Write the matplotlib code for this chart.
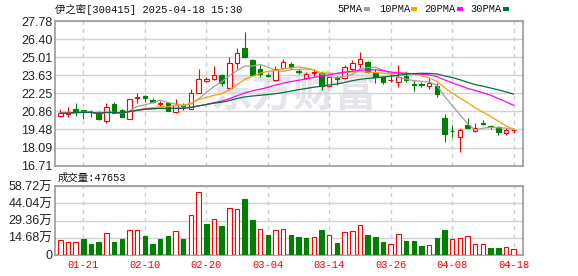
import numpy as np
import pandas as pd
from matplotlib import pyplot as plt
from matplotlib.patches import Rectangle

# daily data (price in yuan, volume in 万)
dates = ['01-16', '01-17', '01-20', '01-21', '01-22', '01-23', '01-24', '01-27',
         '02-05', '02-06', '02-07', '02-10', '02-11', '02-12', '02-13', '02-14',
         '02-17', '02-18', '02-19', '02-20', '02-21', '02-24', '02-25', '02-26',
         '02-27', '02-28', '03-03', '03-04', '03-05', '03-06', '03-07', '03-10',
         '03-11', '03-12', '03-13', '03-14', '03-17', '03-18', '03-19', '03-20',
         '03-21', '03-24', '03-25', '03-26', '03-27', '03-28', '03-31', '04-01',
         '04-02', '04-03', '04-07', '04-08', '04-09', '04-10', '04-11', '04-14',
         '04-15', '04-16', '04-17', '04-18']
opens = [20.52, 20.66, 21.03, 20.95, 20.80, 20.78, 20.14, 21.40, 20.98, 20.31,
         21.90, 22.07, 21.76, 21.45, 21.54, 20.84, 21.34, 21.07, 22.30, 23.18,
         23.36, 23.63, 22.68, 24.55, 25.68, 24.78, 24.09, 23.62, 23.27, 24.22,
         24.46, 23.94, 23.40, 23.82, 23.83, 22.82, 23.52, 23.45, 24.08, 24.47,
         24.68, 23.78, 23.47, 23.26, 23.12, 23.60, 22.96, 22.95, 22.81, 22.81,
         20.39, 19.40, 18.93, 19.83, 19.37, 20.00, 19.71, 19.68, 19.24, 19.45]
highs = [21.02, 21.22, 21.48, 20.97, 20.97, 20.92, 21.48, 21.58, 21.03, 21.83,
         22.28, 22.12, 21.86, 21.66, 21.60, 21.80, 21.50, 22.55, 24.14, 23.46,
         24.35, 23.70, 25.05, 25.75, 26.94, 24.85, 24.39, 23.78, 24.34, 24.86,
         24.65, 24.10, 23.90, 24.05, 23.94, 23.52, 23.54, 24.42, 24.80, 25.44,
         24.73, 24.14, 23.60, 23.85, 24.39, 23.96, 23.27, 23.12, 23.40, 23.07,
         20.65, 19.80, 19.62, 20.34, 19.96, 20.18, 19.80, 19.75, 19.62, 19.47]
lows = [20.47, 20.45, 20.55, 20.25, 20.45, 20.22, 19.98, 20.72, 20.40, 20.27,
        21.53, 21.55, 21.50, 21.30, 20.86, 20.76, 20.97, 21.02, 22.24, 23.10,
        23.30, 22.80, 22.56, 24.08, 24.98, 23.58, 23.52, 23.48, 23.19, 24.14,
        24.09, 23.71, 23.32, 23.56, 22.50, 22.76, 22.86, 23.37, 24.03, 24.22,
        23.82, 23.02, 22.96, 23.12, 22.74, 23.10, 22.43, 22.76, 22.61, 21.99,
        18.52, 18.93, 17.76, 19.57, 19.29, 19.80, 19.50, 19.04, 19.04, 19.19]
closes = [20.72, 20.74, 20.86, 20.84, 20.82, 20.28, 21.22, 20.77, 20.47, 21.79,
          21.93, 21.88, 21.56, 21.48, 20.90, 21.32, 21.25, 22.25, 23.37, 23.33,
          23.62, 23.07, 24.55, 25.36, 25.04, 23.63, 23.70, 23.55, 24.09, 24.65,
          24.24, 23.87, 23.69, 23.86, 22.78, 23.46, 23.37, 24.28, 24.60, 24.90,
          23.91, 23.53, 23.13, 23.28, 23.52, 23.24, 22.90, 22.88, 23.07, 22.17,
          19.11, 19.34, 19.44, 19.57, 19.63, 19.92, 19.65, 19.29, 19.42, 19.47]
volumes = [12.2, 11.3, 11.3, 13.3, 9.1, 10.7, 19.0, 10.7, 13.3, 21.5,
           21.5, 15.8, 9.1, 13.3, 15.8, 20.7, 13.3, 34.2, 53.8, 26.0,
           30.8, 24.3, 40.2, 39.3, 48.1, 29.4, 22.3, 16.7, 21.5, 22.3,
           16.7, 15.0, 14.1, 15.0, 20.9, 16.7, 9.9, 19.8, 20.7, 25.7,
           16.7, 15.0, 10.7, 8.8, 18.1, 11.6, 11.6, 7.4, 7.9, 14.1,
           20.9, 13.9, 14.7, 16.4, 8.8, 8.8, 5.7, 5.7, 6.2, 4.7653]

price_ticks = [16.71, 18.09, 19.48, 20.86, 22.25, 23.63, 25.01, 26.40, 27.78]
vol_ticks = [0, 14.68, 29.36, 44.04, 58.72]
ma_periods = [5, 10, 20, 30]
ma_colors = ['#a0a0a0', '#f5a300', '#ff00ff', '#00703c']

RED = '#ff0000'
GREEN = '#008000'
W, H = 578, 276

def box(l, t, r, b):
    return [l / W, 1 - b / H, (r - l) / W, (b - t) / H]

x = np.arange(len(dates))
o = np.array(opens)
c = np.array(closes)
up = c >= o
prev = np.concatenate([[o[0]], c[:-1]])
vol_up = c >= prev

fig = plt.figure(figsize=(W / 100, H / 100), dpi=100)
ax = fig.add_axes(box(55, 21, 522.5, 165.7))
axv = fig.add_axes(box(55, 186.3, 522.5, 254.7), sharex=ax)

# watermark
ax.text(0.51, 0.5, '东方财富', transform=ax.transAxes, fontsize=30,
        fontweight='bold', color='#e4e4ea', ha='center', va='center',
        family='Noto Sans CJK SC', zorder=0.5)

# candles
cols = np.where(up, RED, GREEN)
ax.vlines(x, lows, highs, colors=cols, lw=0.8, zorder=2)
body = np.maximum(np.abs(c - o), 0.012)
ax.bar(x, body, bottom=np.minimum(o, c), width=0.58,
       facecolor=np.where(up, 'white', GREEN), edgecolor=cols, lw=0.8, zorder=3)

# moving averages
s = pd.Series(closes)
for n, col in zip(ma_periods, ma_colors):
    ax.plot(x, s.rolling(n, min_periods=1).mean(), color=col, lw=0.9, zorder=4)

# volume bars
vcols = np.where(vol_up, RED, GREEN)
axv.bar(x, volumes, width=0.58, facecolor=np.where(vol_up, 'white', GREEN),
        edgecolor=vcols, lw=0.8, zorder=3)

tick_idx = list(range(3, len(dates), 8))
for a in (ax, axv):
    a.set_axisbelow(True)
    a.grid(axis='y', color='#d2d2d2', lw=1)
    a.grid(axis='x', color='#cccccc', lw=1, ls=(0, (3, 3)))
    for sp in a.spines.values():
        sp.set_color('#999999')
        sp.set_linewidth(1.2)
    a.tick_params(length=0)

ax.set_xlim(-0.69, 60.15)
ax.set_xticks(tick_idx)
ax.set_ylim(16.71, 27.78)
ax.set_yticks(price_ticks)
ax.set_yticklabels(['%.2f' % v for v in price_ticks], fontsize=9,
                   family='Liberation Sans', color='#222222')
ax.tick_params(axis='y', pad=2)
ax.tick_params(axis='x', labelbottom=False)

axv.set_ylim(0, 58.72)
axv.set_yticks(vol_ticks)
axv.set_yticklabels(['0'] + ['%.2f万' % v for v in vol_ticks[1:]], fontsize=9,
                    fontfamily=['Liberation Sans', 'Noto Sans CJK SC'], color='#222222')
axv.tick_params(axis='y', pad=2)
axv.set_xticklabels([dates[i] for i in tick_idx], fontsize=7.6,
                    family='Liberation Mono', color=RED)
axv.tick_params(axis='x', pad=4)

# header texts
fam = ['Liberation Mono', 'Noto Sans CJK SC']
fig.text(55 / W, 1 - 9.2 / H, '伊之密[300415] 2025-04-18 15:30', fontsize=7.5,
         family=fam, color='#111111', va='center', ha='left')
fig.text(58 / W, 1 - 177.5 / H, '成交量:%d' % round(volumes[-1] * 10000), fontsize=7.5,
         family=fam, color='#111111', va='center', ha='left')

leg_x = [337.5, 379.4, 424.6, 470.6]
sq_x = [364, 411, 457, 503]
for n, col, tx, sx in zip(ma_periods, ma_colors, leg_x, sq_x):
    fig.text(tx / W, 1 - 9.2 / H, '%dPMA' % n, fontsize=7.5, family=fam,
             color='#111111', va='center', ha='left')
    fig.add_artist(Rectangle((sx / W, 1 - 11.2 / H), 6 / W, 4 / H,
                             transform=fig.transFigure, color=col, lw=0))

fig.savefig('out.png', dpi=100)
